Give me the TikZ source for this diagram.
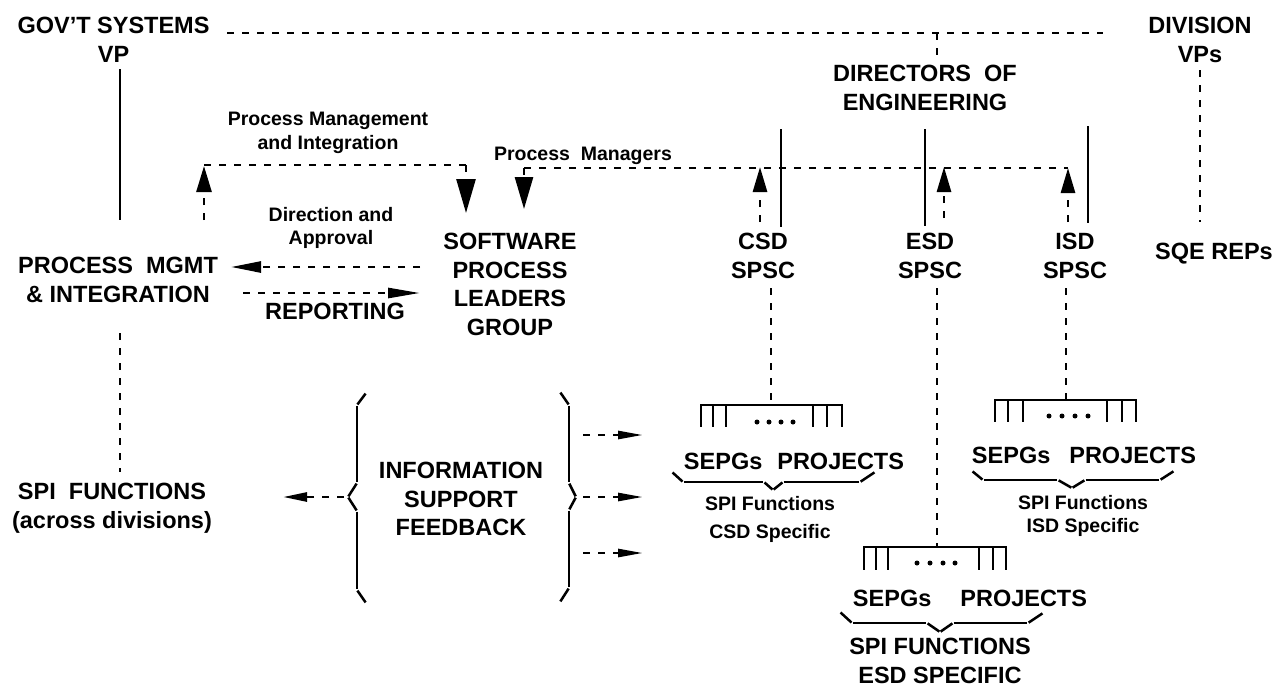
\documentclass[tikz,border=0pt]{standalone}
\usepackage{fontspec}
\setmainfont{Liberation Sans}
\usetikzlibrary{arrows.meta}
\begin{document}
\begin{tikzpicture}[x=1pt,y=-1pt,
  big/.style={font=\fontsize{23.5}{28.5}\selectfont\bfseries, inner sep=0pt, align=center, anchor=north},
  small/.style={font=\fontsize{19.5}{23.5}\selectfont\bfseries, inner sep=0pt, align=center, anchor=north},
  smallwide/.style={font=\fontsize{19.5}{28}\selectfont\bfseries, inner sep=0pt, align=center, anchor=north},
  solidln/.style={line width=2.7pt},
  dashln/.style={line width=2.7pt, dash pattern=on 7pt off 8pt},
  bseg/.style={line width=2.5pt, shorten <=0.7pt, shorten >=0.7pt},
  dotf/.style={fill=black},
  ]
\useasboundingbox (0,0) rectangle (1276,688);
% ---------- text nodes ----------
\node[big] (gov) at (113.5,17) {GOV’T SYSTEMS\\VP};
\node[big] (div) at (1200,17) {DIVISION\\VPs};
\node[big] (dir) at (925,65) {DIRECTORS~~OF\\ENGINEERING};
\node[big] (sqe) at (1214,243) {SQE REPs};
\node[small] (pmilab) at (328,112) {Process Management\\and Integration};
\node[small] (pmglab) at (583,147) {Process~~Managers};
\node[small] (dalab) at (331,207) {Direction and\\Approval};
\node[big] (pmgmt) at (118,257) {PROCESS~~MGMT\\\& INTEGRATION};
\node[big] (rep) at (335,303) {REPORTING};
\node[big] (splg) at (510,233) {SOFTWARE\\PROCESS\\LEADERS\\GROUP};
\node[big] (csd) at (763,233) {CSD\\SPSC};
\node[big] (esd) at (930,233) {ESD\\SPSC};
\node[big] (isd) at (1075,233) {ISD\\SPSC};
\node[big] (spi) at (112,483) {SPI~~FUNCTIONS\\(across divisions)};
\node[big] (info) at (461,462) {INFORMATION\\SUPPORT\\FEEDBACK};
\node[big] (csdsp) at (794,453) {SEPGs\hspace{15pt}PROJECTS};
\node[smallwide] (csdfn) at (770,496) {SPI Functions\\CSD Specific};
\node[big] (isdsp) at (1084,447) {SEPGs\hspace{19pt}PROJECTS};
\node[small] (isdfn) at (1083,495) {SPI Functions\\ISD Specific};
\node[big] (esdsp) at (970,590) {SEPGs\hspace{29pt}PROJECTS};
\node[big] (esdfn) at (940,638) {SPI FUNCTIONS\\ESD SPECIFIC};
% ---------- connector end points ----------
\coordinate (govR) at (227,33);   \coordinate (divL) at (1103,33);
\coordinate (dirT) at (937,33);   \coordinate (dirN) at (937,60);
\coordinate (govS) at (120,69);   \coordinate (pmgN) at (120,220);
\coordinate (divS) at (1200,70);  \coordinate (sqeN) at (1200,222);
\coordinate (pmgS) at (120,333);  \coordinate (spiN) at (120,472);
\coordinate (dirC1) at (781,129); \coordinate (csdN) at (781,227);
\coordinate (dirC2) at (925,129); \coordinate (esdN) at (925,226);
\coordinate (dirC3) at (1088,126);\coordinate (isdN) at (1088,223);
% process management and integration loop
\coordinate (pmiA) at (204,220);  \coordinate (pmiB) at (204,166);
\coordinate (pmiC) at (204,165);  \coordinate (pmiD) at (466,165);
\coordinate (splgN1) at (466,213);
% process managers line
\coordinate (pmL) at (524,168);   \coordinate (pmR) at (1068,168);
\coordinate (splgN2) at (524,209);
\coordinate (csdU) at (760,222);  \coordinate (csdT) at (760,167);
\coordinate (esdU) at (944,218);  \coordinate (esdT) at (944,167);
\coordinate (isdU) at (1068,222); \coordinate (isdT) at (1068,168);
% direction / reporting
\coordinate (daS) at (420,267);   \coordinate (daT) at (231,267);
\coordinate (rpS) at (243,293);   \coordinate (rpT) at (420,293);
% spsc down to rakes
\coordinate (csdS) at (771,288);  \coordinate (csdR) at (771,405);
\coordinate (esdS) at (937,288);  \coordinate (esdR) at (937,547);
\coordinate (isdS) at (1066,288); \coordinate (isdR) at (1066,400);
% ---------- connectors ----------
\draw[dashln] (govR) -- (divL);
\draw[dashln] (dirT) -- (dirN);
\draw[solidln] (govS) -- (pmgN);
\draw[dashln] (divS) -- (sqeN);
\draw[dashln] (pmgS) -- (spiN);
\draw[solidln] (dirC1) -- (csdN);
\draw[solidln] (dirC2) -- (esdN);
\draw[solidln] (dirC3) -- (isdN);
\draw[dashln,-{Triangle[length=26pt,width=15pt]}] (pmiA) -- (pmiB);
\draw[dashln] (pmiC) -- (pmiD);
\draw[dashln,-{Triangle[length=34pt,width=19pt]}] (pmiD) -- (splgN1);
\draw[dashln] (pmL) -- (pmR);
\draw[dashln,-{Triangle[length=32pt,width=18pt]}] (pmL) -- (splgN2);
\draw[dashln,-{Triangle[length=25pt,width=14pt]}] (csdU) -- (csdT);
\draw[dashln,-{Triangle[length=25pt,width=14pt]}] (esdU) -- (esdT);
\draw[dashln,-{Triangle[length=25pt,width=14pt]}] (isdU) -- (isdT);
\draw[dashln,-{Triangle[length=30pt,width=11pt]}] (daS) -- (daT);
\draw[dashln,-{Triangle[length=32pt,width=10pt]}] (rpS) -- (rpT);
\draw[dashln] (csdS) -- (csdR);
\draw[dashln] (esdS) -- (esdR);
\draw[dashln] (isdS) -- (isdR);
% ---------- rakes ----------
\draw[solidln] (700,405) -- (843,405);
\foreach \x in {701,713,726,813,827,842} \draw[solidln] (\x,405) -- (\x,427);
\foreach \x in {757,769,781,793} \fill[dotf] (\x,422) circle (2.5pt);
\draw[solidln] (994,400) -- (1137,400);
\foreach \x in {995,1008,1023,1107,1122,1136} \draw[solidln] (\x,400) -- (\x,422);
\foreach \x in {1049,1062,1075,1088} \fill[dotf] (\x,416) circle (2.5pt);
\draw[solidln] (863,547) -- (1007,547);
\foreach \x in {864,876,888,979,993,1006} \draw[solidln] (\x,547) -- (\x,570);
\foreach \x in {917,930,943,955} \fill[dotf] (\x,563) circle (2.5pt);
% ---------- underbraces (drawn in short strokes, as in the original) ----------
\foreach \ax/\ay/\bx/\by in {672/472/683/482, 683/482/764/482, 764/482/773/490, 773/490/783/482, 783/482/860/482, 860/482/875/472} \draw[bseg] (\ax,\ay) -- (\bx,\by);
\foreach \ax/\ay/\bx/\by in {972/471/983/480, 983/480/1058/480, 1058/480/1072/488, 1072/488/1085/480, 1085/480/1160/480, 1160/480/1174/471} \draw[bseg] (\ax,\ay) -- (\bx,\by);
\foreach \ax/\ay/\bx/\by in {840/612/852/623, 852/623/927/623, 927/623/940/632, 940/632/953/623, 953/623/1028/623, 1028/623/1043/613} \draw[bseg] (\ax,\ay) -- (\bx,\by);
% ---------- information braces ----------
\foreach \ax/\ay/\bx/\by in {366/393/357/405, 357/405/357/483, 357/483/348/497, 348/497/357/511, 357/511/357/590, 357/590/366/603} \draw[bseg] (\ax,\ay) -- (\bx,\by);
\foreach \ax/\ay/\bx/\by in {560/392/569/405, 569/405/569/483, 569/483/576/497, 576/497/569/510, 569/510/569/588, 569/588/560/602} \draw[bseg] (\ax,\ay) -- (\bx,\by);
\coordinate (infL) at (344,497); \coordinate (spiE) at (283,497);
\draw[dashln,-{Triangle[length=24pt,width=9pt]}] (infL) -- (spiE);
\foreach \y in {435,497,553} {
  \coordinate (infR\y) at (583,\y); \coordinate (rakeL\y) at (643,\y);
  \draw[dashln,-{Triangle[length=25pt,width=8pt]}] (infR\y) -- (rakeL\y);
}
\end{tikzpicture}
\end{document}
